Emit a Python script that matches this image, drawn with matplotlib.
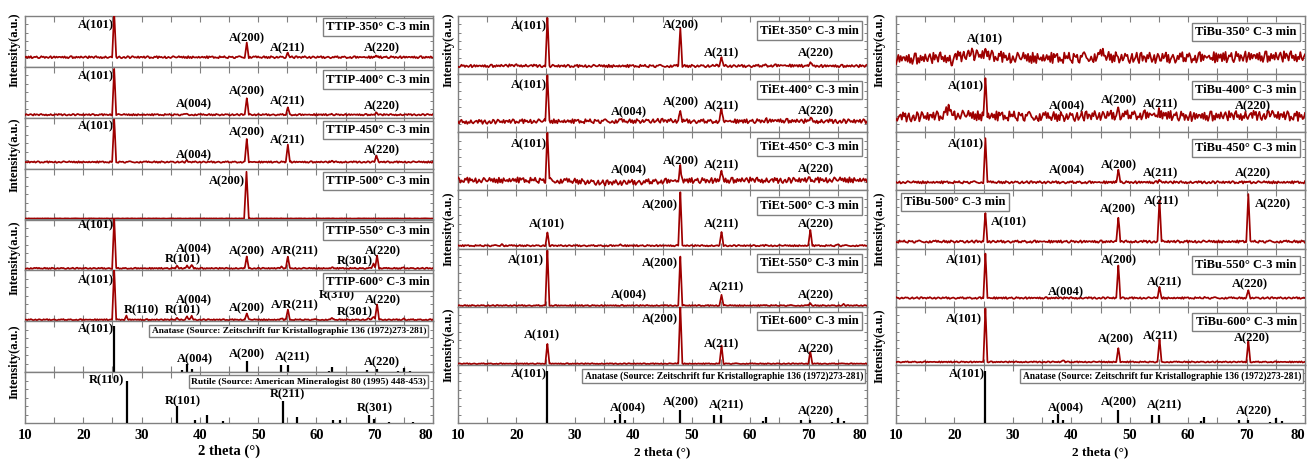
import numpy as np
import matplotlib
matplotlib.use("Agg")
import matplotlib.pyplot as plt
from matplotlib.ticker import MultipleLocator

# ---------------------------------------------------------------- data
X_TICKS = [10, 20, 30, 40, 50, 60, 70, 80]

# peaks: (2theta, height above baseline [fraction of panel], optional half-base width)
TTIP_SAMPLES = ["TTIP-350° C-3 min", "TTIP-400° C-3 min", "TTIP-450° C-3 min",
                "TTIP-500° C-3 min", "TTIP-550° C-3 min", "TTIP-600° C-3 min"]
TTIP_BASELINE = [[0.19], [0.06], [0.13], [0.02], [0.04], [0.03]]
TTIP_NOISE = [0.02, 0.015, 0.015, 0.003, 0.012, 0.012]
TTIP_PEAKS = [
    [(25.3, 0.85), (48.05, 0.29), (55.1, 0.09), (70.3, 0.03)],
    [(25.3, 0.90), (37.8, 0.02), (48.05, 0.33), (55.1, 0.14), (62.7, 0.01), (70.3, 0.04)],
    [(25.3, 0.83), (37.8, 0.02), (48.05, 0.46), (55.1, 0.35), (62.7, 0.02), (70.3, 0.13)],
    [(48.0, 0.92, 0.4)],
    [(25.3, 0.98), (36.1, 0.05), (37.8, 0.05), (38.6, 0.07), (48.05, 0.23), (54.0, 0.04),
     (55.1, 0.23), (62.7, 0.02), (69.8, 0.10), (70.4, 0.25), (75.0, 0.02)],
    [(25.3, 0.99), (27.4, 0.07), (36.1, 0.04), (37.8, 0.06), (38.6, 0.07), (48.05, 0.13),
     (54.0, 0.03), (55.1, 0.19), (62.7, 0.03), (69.0, 0.03), (69.8, 0.06), (70.4, 0.31),
     (75.0, 0.02)],
]

TIET_SAMPLES = ["TiEt-350° C-3 min", "TiEt-400° C-3 min", "TiEt-450° C-3 min",
                "TiEt-500° C-3 min", "TiEt-550° C-3 min", "TiEt-600° C-3 min"]
TIET_BASELINE = [
    [0.14, 0.14, 0.15, 0.14, 0.14, 0.14, 0.14, 0.14, 0.14, 0.14, 0.14, 0.15, 0.14, 0.14, 0.14],
    [0.18, 0.18, 0.19, 0.19, 0.19, 0.19, 0.19, 0.20, 0.19, 0.19, 0.19, 0.20, 0.19, 0.19, 0.19],
    [0.18, 0.17, 0.18, 0.17, 0.16, 0.13, 0.14, 0.16, 0.17, 0.17, 0.18, 0.17, 0.18, 0.18, 0.18],
    [0.05], [0.02], [0.02],
]
TIET_NOISE = [0.022, 0.035, 0.045, 0.012, 0.01, 0.008]
TIET_PEAKS = [
    [(25.3, 0.82), (48.05, 0.66), (54.0, 0.02), (55.1, 0.16), (62.7, 0.01), (70.3, 0.08)],
    [(25.3, 0.79), (37.8, 0.02), (48.05, 0.17), (55.1, 0.22), (62.7, 0.02), (70.3, 0.06)],
    [(25.3, 0.81), (48.05, 0.25), (55.1, 0.17), (70.3, 0.03)],
    [(17.5, 0.03), (25.3, 0.22), (37.8, 0.02), (48.05, 0.92), (55.1, 0.23), (62.7, 0.01),
     (70.3, 0.27), (75.0, 0.02)],
    [(25.3, 0.95), (48.05, 0.84), (55.1, 0.19), (62.7, 0.01), (70.3, 0.04), (76.0, 0.02)],
    [(25.3, 0.34), (48.05, 0.99), (55.1, 0.31), (70.3, 0.20), (76.0, 0.01)],
]

TIBU_SAMPLES = ["TiBu-350° C-3 min", "TiBu-400° C-3 min", "TiBu-450° C-3 min",
                "TiBu-500° C-3 min", "TiBu-550° C-3 min", "TiBu-600° C-3 min"]
TIBU_BASELINE = [
    [0.26, 0.27, 0.30, 0.33, 0.28, 0.28, 0.28, 0.30, 0.28, 0.28, 0.29, 0.29, 0.30, 0.30, 0.31],
    [0.26, 0.27, 0.30, 0.28, 0.28, 0.27, 0.27, 0.29, 0.30, 0.30, 0.27, 0.28, 0.29, 0.29, 0.27],
    [0.14], [0.12], [0.15], [0.05],
]
TIBU_NOISE = [0.09, 0.08, 0.02, 0.02, 0.015, 0.01]
TIBU_PEAKS = [
    [(19.5, -0.10, 0.6), (22.5, 0.08, 1.0), (25.3, 0.08), (45.4, 0.07, 0.8)],
    [(19.0, 0.12, 1.0), (25.3, 0.66), (48.05, 0.10), (55.1, 0.05), (74.0, 0.06)],
    [(25.3, 0.76), (48.05, 0.22), (55.1, 0.05), (70.3, 0.02)],
    [(25.3, 0.48), (48.05, 0.42), (55.1, 0.72), (70.3, 0.83)],
    [(25.3, 0.76), (48.05, 0.56), (55.1, 0.19), (62.7, 0.01), (70.3, 0.13)],
    [(25.3, 0.92), (38.6, 0.03), (48.05, 0.24), (55.1, 0.38), (70.3, 0.35)],
]

ANATASE_SOURCE = "Anatase (Source: Zeitschrift fur Kristallographie 136 (1972)273-281)"
ANATASE_POS = [25.28, 36.95, 37.80, 38.58, 48.05, 53.89, 55.06, 62.12, 62.69, 68.76,
               70.31, 74.03, 75.03, 76.02]
ANATASE_INT = [0.90, 0.05, 0.16, 0.06, 0.22, 0.14, 0.14, 0.03, 0.11, 0.05, 0.06, 0.02,
               0.08, 0.03]
RUTILE_SOURCE = "Rutile (Source: American Mineralogist 80 (1995) 448-453)"
RUTILE_POS = [27.45, 36.09, 39.19, 41.25, 44.05, 54.33, 56.64, 62.76, 64.05, 69.01,
              69.80, 72.43, 76.51]
RUTILE_INT = [0.83, 0.33, 0.05, 0.15, 0.04, 0.43, 0.12, 0.06, 0.06, 0.15, 0.07, 0.02, 0.02]

# hand-typed baseline fuzz pattern (digits 0-9)
NOISE_DIGITS = ("4718290365820395716415904827366372815049905173628426840937517935160428"
                "3146729580582046139704973528166381597042175908462380263159743594728160"
                "9160843527247361908578152309464932086571065897431252071486938341592706"
                "1965037248672048135930892651749513704862284691703574026385914175850326"
                "03891726545634290817")

# ---------------------------------------------------------------- label layout
# (text, x, y, ha)
ANN_TTIP = [
    [("A(101)", 25.2, 0.82, "right"), ("A(200)", 48.1, 0.56, "center"),
     ("A(211)", 55.1, 0.37, "center"), ("A(220)", 71.2, 0.37, "center")],
    [("A(101)", 25.2, 0.82, "right"), ("A(004)", 39.0, 0.27, "center"),
     ("A(200)", 48.1, 0.53, "center"), ("A(211)", 55.1, 0.33, "center"),
     ("A(220)", 71.2, 0.22, "center")],
    [("A(101)", 25.2, 0.83, "right"), ("A(004)", 39.0, 0.26, "center"),
     ("A(200)", 48.1, 0.71, "center"), ("A(211)", 55.1, 0.55, "center"),
     ("A(220)", 71.2, 0.36, "center")],
    [("A(200)", 47.8, 0.75, "right")],
    [("A(101)", 25.2, 0.88, "right"), ("R(101)", 37.1, 0.22, "center"),
     ("A(004)", 39.0, 0.42, "center"), ("A(200)", 48.1, 0.37, "center"),
     ("A/R(211)", 56.2, 0.37, "center"), ("A(220)", 71.4, 0.37, "center"),
     ("R(301)", 66.6, 0.18, "center")],
    [("A(101)", 25.2, 0.81, "right"), ("R(110)", 30.0, 0.22, "center"),
     ("R(101)", 37.1, 0.22, "center"), ("A(004)", 39.0, 0.42, "center"),
     ("A(200)", 48.1, 0.26, "center"), ("A/R(211)", 56.2, 0.31, "center"),
     ("R(310)", 63.5, 0.52, "center"), ("A(220)", 71.4, 0.42, "center"),
     ("R(301)", 66.6, 0.18, "center")],
]
BOX_Y_TTIP = [0.79, 0.75, 0.76, 0.75, 0.78, 0.77]

ANN_TIET = [
    [("A(101)", 25.2, 0.82, "right"), ("A(200)", 48.1, 0.84, "center"),
     ("A(211)", 55.1, 0.36, "center"), ("A(220)", 71.3, 0.36, "center")],
    [("A(101)", 25.2, 0.81, "right"), ("A(004)", 39.2, 0.35, "center"),
     ("A(200)", 48.1, 0.52, "center"), ("A(211)", 55.1, 0.45, "center"),
     ("A(220)", 71.3, 0.36, "center")],
    [("A(101)", 25.2, 0.80, "right"), ("A(004)", 39.2, 0.34, "center"),
     ("A(200)", 48.1, 0.50, "center"), ("A(211)", 55.1, 0.44, "center"),
     ("A(220)", 71.3, 0.37, "center")],
    [("A(101)", 25.2, 0.42, "center"), ("A(200)", 47.7, 0.75, "right"),
     ("A(211)", 55.1, 0.42, "center"), ("A(220)", 71.3, 0.42, "center")],
    [("A(101)", 24.7, 0.80, "right"), ("A(004)", 39.2, 0.20, "center"),
     ("A(200)", 47.7, 0.75, "right"), ("A(211)", 55.9, 0.34, "center"),
     ("A(220)", 71.3, 0.20, "center")],
    [("A(101)", 24.4, 0.51, "center"), ("A(200)", 47.7, 0.79, "right"),
     ("A(211)", 55.1, 0.36, "center"), ("A(220)", 71.3, 0.27, "center")],
]
BOX_Y_TIET = [0.75, 0.73, 0.75, 0.73, 0.75, 0.75]

ANN_TIBU = [
    [("A(101)", 25.2, 0.60, "center")],
    [("A(101)", 25.0, 0.79, "right"), ("A(004)", 39.2, 0.44, "center"),
     ("A(200)", 48.2, 0.55, "center"), ("A(211)", 55.2, 0.48, "center"),
     ("A(220)", 71.1, 0.45, "center")],
    [("A(101)", 25.0, 0.80, "right"), ("A(004)", 39.2, 0.34, "center"),
     ("A(200)", 48.2, 0.44, "center"), ("A(211)", 55.2, 0.30, "center"),
     ("A(220)", 71.1, 0.30, "center")],
    [("A(101)", 26.2, 0.45, "left"), ("A(200)", 47.9, 0.67, "center"),
     ("A(211)", 55.5, 0.81, "center"), ("A(220)", 71.4, 0.76, "left")],
    [("A(101)", 24.7, 0.80, "right"), ("A(004)", 39.1, 0.24, "center"),
     ("A(200)", 48.2, 0.80, "center"), ("A(211)", 55.9, 0.42, "center"),
     ("A(220)", 70.6, 0.39, "center")],
    [("A(101)", 24.7, 0.78, "right"), ("A(200)", 47.6, 0.44, "center"),
     ("A(211)", 55.2, 0.49, "center"), ("A(220)", 70.9, 0.46, "center")],
]
BOX_Y_TIBU = [0.73, 0.73, 0.73, 0.80, 0.72, 0.74]

ANN_ANATASE = [("A(101)", 25.2, 0.84, "right"), ("A(004)", 39.1, 0.26, "center"),
               ("A(200)", 48.1, 0.35, "center"), ("A(211)", 55.9, 0.30, "center"),
               ("A(220)", 71.3, 0.20, "center")]
ANN_RUTILE = [("R(110)", 27.0, 0.83, "right"), ("R(101)", 37.1, 0.43, "center"),
              ("R(211)", 55.1, 0.56, "center"), ("R(301)", 70.0, 0.28, "center")]

# ---------------------------------------------------------------- style
W, H = 1308, 461
RED = "#9e0000"
GRAY = "#808080"
plt.rcParams["font.family"] = ["Liberation Serif", "DejaVu Serif"]
plt.rcParams["font.weight"] = "bold"

fig = plt.figure(figsize=(W / 100, H / 100), dpi=100)
GRID = np.arange(10, 80.001, 0.2)


def build_trace(base_pts, peaks, amp, offset):
    bx = np.linspace(10, 80, len(base_pts)) if len(base_pts) > 1 else np.array([10.0])
    base = np.interp(GRID, bx, base_pts)
    d = np.array([int(NOISE_DIGITS[(offset + i) % len(NOISE_DIGITS)]) for i in range(len(GRID))])
    y0 = base + (d - 4.5) / 4.5 * amp
    pk = [(p[0], p[1], p[2] if len(p) > 2 else 0.35) for p in peaks]
    xs = [GRID] + [np.array([p - w, p - 0.08, p, p + 0.08, p + w]) for p, h, w in pk]
    x = np.unique(np.concatenate(xs))
    y = np.interp(x, GRID, y0)
    for p, h, w in pk:
        y = y + np.interp(x, [p - w, p - 0.08, p, p + 0.08, p + w],
                          [0, 0.8 * h, h, 0.8 * h, 0], left=0, right=0)
    return x, y


def make_rows(left_px, right_px, top_px, bot_px, n, ytick_step):
    axes = []
    hh = (bot_px - top_px) / n
    for i in range(n):
        t = top_px + i * hh
        ax = fig.add_axes([left_px / W, 1 - (t + hh) / H, (right_px - left_px) / W, hh / H])
        ax.set_xlim(10, 80)
        ax.set_ylim(0, 1)
        for s in ax.spines.values():
            s.set_color(GRAY)
            s.set_linewidth(1.0)
        ax.xaxis.set_major_locator(MultipleLocator(10))
        ax.xaxis.set_minor_locator(MultipleLocator(5))
        ax.yaxis.set_major_locator(MultipleLocator(ytick_step))
        ax.tick_params(axis="both", which="both", direction="in", colors=GRAY,
                       top=True, bottom=True, left=True, right=True,
                       labelleft=False, labelbottom=False)
        ax.tick_params(axis="x", which="both", length=4, width=0.8)
        ax.tick_params(axis="y", which="both", length=2.5, width=0.7)
        axes.append(ax)
    ax = axes[-1]
    ax.set_xticks(X_TICKS)
    ax.tick_params(axis="x", which="major", labelbottom=True, labelcolor="black",
                   labelsize=10.5, pad=4)
    labs = ax.get_xticklabels()
    labs[-1].set_horizontalalignment("right")
    for lb in labs:
        lb.set_fontweight("bold")
    return axes


def annotate(ax, anns, fs=9):
    for txt, x, y, ha in anns:
        ax.text(x, y, txt, ha=ha, va="center", fontsize=fs, fontweight="bold", zorder=5)


def box(ax, txt, x, y, ha="right", fs=9):
    ax.text(x, y, txt, transform=ax.transAxes, ha=ha, va="center", fontsize=fs,
            fontweight="bold", zorder=6,
            bbox=dict(boxstyle="square,pad=0.25", fc="white", ec=GRAY, lw=1.0))


def draw_panel(axes, baselines, noises, peaks, anns, offset0):
    for i in range(6):
        ax = axes[i]
        x, y = build_trace(baselines[i], peaks[i], noises[i], offset0 + 47 * i)
        ax.plot(x, y, color=RED, lw=1.25, zorder=3)
        annotate(ax, anns[i])


def draw_ref(ax, pos, inten, anns, src, src_x, fs):
    ax.vlines(pos, 0, inten, color="black", lw=1.6, zorder=3)
    annotate(ax, anns)
    box(ax, src, src_x, 0.81, fs=fs)


# ---- left panel (TTIP)
axL = make_rows(25, 433, 16, 423, 8, 1 / 6)
draw_panel(axL, TTIP_BASELINE, TTIP_NOISE, TTIP_PEAKS, ANN_TTIP, 0)
for i in range(6):
    box(axL[i], TTIP_SAMPLES[i], 0.9925, BOX_Y_TTIP[i])
draw_ref(axL[6], ANATASE_POS, ANATASE_INT, ANN_ANATASE, ANATASE_SOURCE, 0.983, 6.75)
draw_ref(axL[7], RUTILE_POS, RUTILE_INT, ANN_RUTILE, RUTILE_SOURCE, 0.983, 6.8)

# ---- middle panel (TiEt)
axM = make_rows(458, 867, 16, 423, 7, 1 / 7)
draw_panel(axM, TIET_BASELINE, TIET_NOISE, TIET_PEAKS, ANN_TIET, 11)
for i in range(6):
    box(axM[i], TIET_SAMPLES[i], 0.98, BOX_Y_TIET[i])
draw_ref(axM[6], ANATASE_POS, ANATASE_INT, ANN_ANATASE, ANATASE_SOURCE, 0.99, 6.85)

# ---- right panel (TiBu)
axR = make_rows(896, 1305, 16, 423, 7, 1 / 7)
draw_panel(axR, TIBU_BASELINE, TIBU_NOISE, TIBU_PEAKS, ANN_TIBU, 23)
for i in range(6):
    if i == 3:
        box(axR[i], TIBU_SAMPLES[i], 0.02, BOX_Y_TIBU[i], ha="left")
    else:
        box(axR[i], TIBU_SAMPLES[i], 0.98, BOX_Y_TIBU[i])
draw_ref(axR[6], ANATASE_POS, ANATASE_INT, ANN_ANATASE, ANATASE_SOURCE, 0.99, 6.85)

# ---- axis titles
for xc, yc_list in [(15, [50, 155, 258, 362]), (449, [50, 229, 345]), (880, [50, 229, 346])]:
    for yc in yc_list:
        fig.text(xc / W, 1 - yc / H, "Intensity(a.u.)", rotation=90, ha="center",
                 va="center", fontsize=9, fontweight="bold")
fig.text(229 / W, 1 - 451 / H, "2 theta (°)", ha="center", va="center", fontsize=10.5,
         fontweight="bold")
fig.text(662 / W, 1 - 452 / H, "2 theta (°)", ha="center", va="center", fontsize=9.5,
         fontweight="bold")
fig.text(1100 / W, 1 - 452 / H, "2 theta (°)", ha="center", va="center", fontsize=9.5,
         fontweight="bold")

fig.savefig("out.png", dpi=100)
